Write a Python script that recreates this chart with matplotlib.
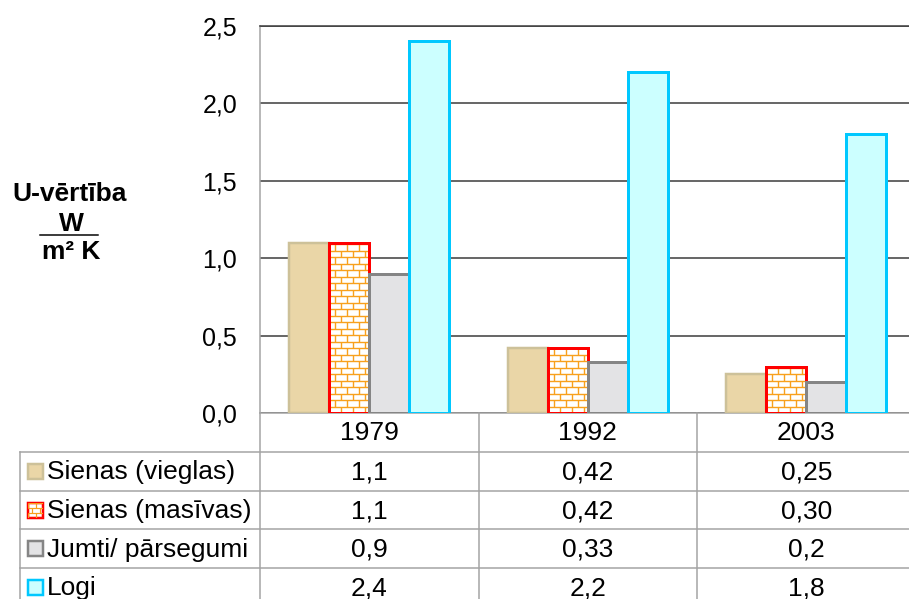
import matplotlib.pyplot as plt
import numpy as np
from matplotlib.collections import LineCollection
from matplotlib.patches import Rectangle

plt.rcParams['font.family'] = ['Liberation Sans', 'DejaVu Sans']

years = ['1979', '1992', '2003']
series = ['Sienas (vieglas)', 'Sienas (masīvas)', 'Jumti/ pārsegumi', 'Logi']
# U-vērtības tabulā (ar komatu kā decimālatdalītāju)
cells = [
    ['1,1', '0,42', '0,25'],
    ['1,1', '0,42', '0,30'],
    ['0,9', '0,33', '0,2'],
    ['2,4', '2,2', '1,8'],
]
y_ticks = [0.0, 0.5, 1.0, 1.5, 2.0, 2.5]

W, H = 909, 599
PL, PT, PB = 260, 26, 413      # zīmējuma laukuma kreisā, augšējā, apakšējā mala (px)
COL = 218.5                    # kolonnas platums (px)
ROW_TOP = 452
ROW_H = 38.7
GRAY = '#a3a3a3'
FS = 18
FS_TAB = 19
PX = 0.72                      # px -> pt pie 100 dpi

# fill, edge, edge width (px)
styles = [
    ('#ead6a7', '#cdc199', 2.5),
    ('white', '#ff0000', 3.0),
    ('#e3e3e5', '#858585', 3.0),
    ('#ccffff', '#00c8ff', 3.0),
]
BRICK = '#f8a01c'


def to_num(s):
    return float(s.replace(',', '.'))


def brick_segments(x0, y0, w, h, bw, bh):
    segs = []
    rows = int(np.ceil(h / bh)) + 1
    for r in range(rows):
        y = y0 + r * bh
        segs.append([(x0, y), (x0 + w, y)])
        x = x0 - bw + (r % 2) * bw / 2
        while x <= x0 + w:
            segs.append([(x, y), (x, y + bh)])
            x += bw
    return segs


fig = plt.figure(figsize=(W / 100, H / 100), dpi=100)
ax = fig.add_axes([PL / W, (H - PB) / H, 3 * COL / W, (PB - PT) / H])
ax.set_xlim(-0.5, 2.5)
ax.set_ylim(0, 2.5)
sy = (PB - PT) / 2.5           # px uz vienību

x = np.arange(len(years))
bw = 40 / COL
for i, (name, row) in enumerate(zip(series, cells)):
    face, edge, lw = styles[i]
    vals = [to_num(s) for s in row]
    pos = x + (i - 1.5) * bw
    fills = ax.bar(pos, vals, bw, color=face, linewidth=0, zorder=2)
    if i == 1:
        for rect in fills:
            lc = LineCollection(
                brick_segments(rect.get_x(), 0, rect.get_width(), rect.get_height(),
                               12 / COL, 6.5 / sy),
                colors=BRICK, linewidths=1.4 * PX, zorder=2.5, snap=True)
            ax.add_collection(lc)
            lc.set_clip_path(rect)
    ax.bar(pos, vals, bw, fill=False, edgecolor=edge, linewidth=lw * PX, zorder=3)

ax.set_xticks([])
ax.set_yticks(y_ticks)
ax.set_yticklabels([f'{v:.1f}'.replace('.', ',') for v in y_ticks], fontsize=FS)
ax.tick_params(axis='y', length=0, pad=16.5)
ax.set_axisbelow(True)
ax.yaxis.grid(True, color='#3c3c3c', linewidth=1.1)
ax.spines['right'].set_visible(False)
ax.spines['top'].set_color('#3c3c3c')
ax.spines['top'].set_linewidth(1.1)
for s in ('left', 'bottom'):
    ax.spines[s].set_color(GRAY)
    ax.spines[s].set_linewidth(1.5 * PX)

# tabula zem diagrammas, pikseļu koordinātās
tab = fig.add_axes([0, 0, 1, 1], zorder=3)
tab.set_xlim(0, W)
tab.set_ylim(H, 0)
tab.axis('off')

col_x = [PL + k * COL for k in range(len(years) + 1)]
for k, cx in enumerate(col_x):
    tab.plot([cx, cx], [PB, H], color=GRAY, lw=1.5 * PX)
tab.plot([20, 20], [ROW_TOP, H], color=GRAY, lw=1.5 * PX)
for r in range(len(series)):
    yl = ROW_TOP + r * ROW_H
    tab.plot([20, W], [yl, yl], color=GRAY, lw=1.5 * PX)

for k, yr in enumerate(years):
    tab.text(PL + (k + 0.5) * COL, (PB + ROW_TOP) / 2 + 1, yr, fontsize=FS_TAB,
             ha='center', va='center')

for r, (name, row) in enumerate(zip(series, cells)):
    yc = ROW_TOP + (r + 0.5) * ROW_H
    face, edge, lw = styles[r]
    key = Rectangle((28, yc - 7.5), 15, 15, facecolor=face, edgecolor='none')
    tab.add_patch(key)
    if r == 1:
        lc = LineCollection(brick_segments(28, yc - 7.5, 15, 15, 8, 5),
                            colors=BRICK, linewidths=1.2 * PX, snap=True)
        tab.add_collection(lc)
        lc.set_clip_path(key)
    tab.add_patch(Rectangle((28, yc - 7.5), 15, 15, fill=False, edgecolor=edge,
                            linewidth=min(lw, 2.5) * PX))
    tab.text(47, yc + 1, name, fontsize=FS_TAB, ha='left', va='center')
    for k, s in enumerate(row):
        tab.text(PL + (k + 0.5) * COL, yc + 1, s, fontsize=FS_TAB, ha='center', va='center')

# y ass nosaukums ar mērvienību daļskaitļa veidā
tab.text(70, 201, 'U-vērtība', fontsize=FS_TAB, fontweight='bold', ha='center', va='baseline')
tab.text(71, 231, 'W', fontsize=FS_TAB, fontweight='bold', ha='center', va='baseline')
tab.plot([40, 98], [235, 235], color='black', lw=1.5 * PX)
tab.text(71, 259, 'm² K', fontsize=FS_TAB, fontweight='bold', ha='center', va='baseline')

fig.savefig('out.png', dpi=100)
